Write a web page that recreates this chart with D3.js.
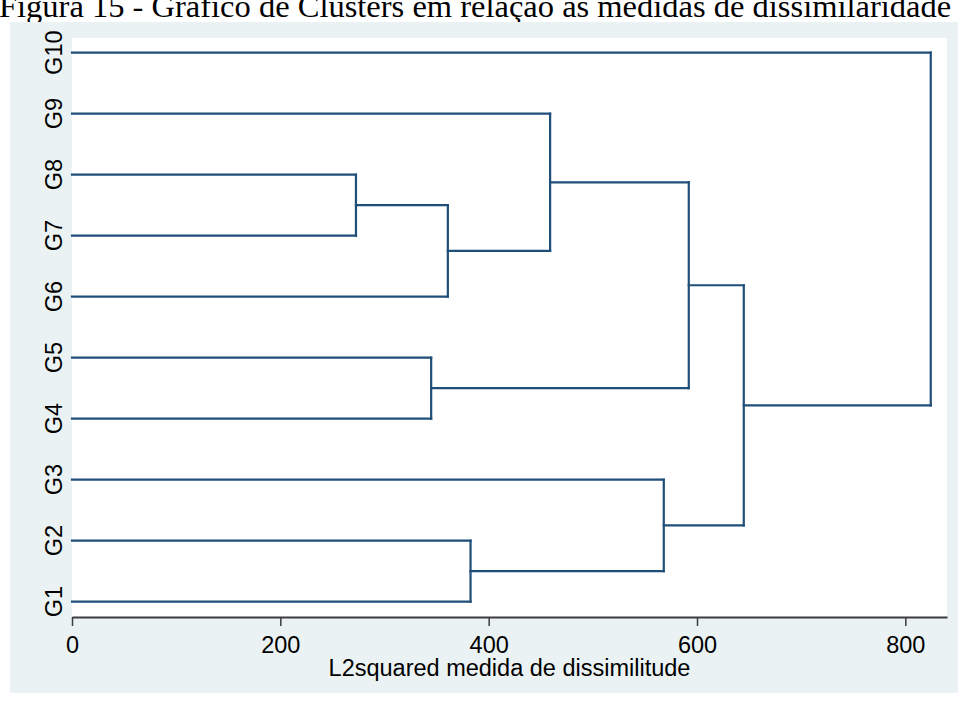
<!DOCTYPE html>
<html>
<head>
<meta charset="utf-8">
<script src="https://cdn.jsdelivr.net/npm/d3@7"></script>
<style>
  html, body { margin: 0; padding: 0; background: #ffffff; }
  svg { display: block; }
</style>
</head>
<body>
<svg id="chart" width="958" height="705"></svg>
<script>
// Leaves, listed from the bottom of the dendrogram to the top
const leaves = ["G1", "G2", "G3", "G4", "G5", "G6", "G7", "G8", "G9", "G10"];

// Agglomeration steps: the two joined members and the L2squared dissimilarity of the join.
// Members are leaf names or "c<k>" for the cluster formed at step k (1-based).
const mergeLeft   = ["G7", "G4", "c1", "G1", "c3", "c4", "c2", "c6", "G10"];
const mergeRight  = ["G8", "G5", "G6", "G2", "G9", "G3", "c5", "c7", "c8"];
const mergeHeight = [272.6, 344.8, 360.8, 382.6, 459.0, 568.1, 592.1, 644.9, 824.4];

// Axis ticks
const xTicks = [0, 200, 400, 600, 800];
const xDomain = [0, 840];

const titleText = "Figura 15 - Gráfico de Clusters em relação às medidas de dissimilaridade";
const xAxisTitle = "L2squared medida de dissimilitude";

const svg = d3.select("#chart");

const plot = { left: 72, right: 947, top: 38, bottom: 617 };
const x = d3.scaleLinear().domain(xDomain).range([plot.left, plot.right]);
const y = d3.scalePoint().domain(leaves).range([601.7, 52.7]);

// Page title (sits above the graph frame, clipped by the top of the page)
svg.append("text")
  .attr("x", -1)
  .attr("y", 17)
  .attr("font-family", "'Liberation Serif', 'Times New Roman', serif")
  .attr("font-size", 32.5)
  .attr("fill", "#000")
  .text(titleText);

// Graph background and plot region
svg.append("rect")
  .attr("x", 10).attr("y", 22)
  .attr("width", 948).attr("height", 671)
  .attr("fill", "#eaf2f3");
svg.append("rect")
  .attr("x", plot.left).attr("y", plot.top)
  .attr("width", plot.right - plot.left).attr("height", plot.bottom - plot.top)
  .attr("fill", "#ffffff");

// Build node positions from the merge table
const nodes = {};
leaves.forEach(name => { nodes[name] = { h: 0, y: y(name) }; });
const segs = [];
mergeHeight.forEach((h, i) => {
  const a = nodes[mergeLeft[i]], b = nodes[mergeRight[i]];
  segs.push([x(a.h), a.y, x(h), a.y]);
  segs.push([x(b.h), b.y, x(h), b.y]);
  segs.push([x(h), a.y, x(h), b.y]);
  nodes["c" + (i + 1)] = { h: h, y: (a.y + b.y) / 2 };
});

svg.append("g")
  .attr("stroke", "#1f4e79")
  .attr("stroke-width", 2.2)
  .attr("stroke-linecap", "square")
  .selectAll("line")
  .data(segs)
  .join("line")
  .attr("x1", d => d[0]).attr("y1", d => d[1])
  .attr("x2", d => d[2]).attr("y2", d => d[3]);

// Leaf labels, rotated
svg.append("g")
  .selectAll("text")
  .data(leaves)
  .join("text")
  .attr("transform", d => `translate(62,${y(d)}) rotate(-90)`)
  .attr("text-anchor", "middle")
  .attr("font-family", "'Liberation Sans', Arial, sans-serif")
  .attr("font-size", 23.5)
  .attr("fill", "#000")
  .text(d => d);

// X axis
const xAxis = d3.axisBottom(x)
  .tickValues(xTicks)
  .tickSize(9)
  .tickPadding(9)
  .tickSizeOuter(0);
const gx = svg.append("g")
  .attr("transform", `translate(0,${plot.bottom})`)
  .call(xAxis);
gx.select(".domain").attr("stroke", "#3c3c3c").attr("stroke-width", 1.8);
gx.selectAll(".tick line").attr("stroke", "#3c3c3c").attr("stroke-width", 1.5);
gx.selectAll(".tick text")
  .attr("font-family", "'Liberation Sans', Arial, sans-serif")
  .attr("font-size", 23.5)
  .attr("fill", "#000")
  .attr("dy", null)
  .attr("y", 36);

svg.append("text")
  .attr("x", (plot.left + plot.right) / 2)
  .attr("y", 676)
  .attr("text-anchor", "middle")
  .attr("font-family", "'Liberation Sans', Arial, sans-serif")
  .attr("font-size", 23.5)
  .attr("fill", "#000")
  .text(xAxisTitle);
</script>
</body>
</html>
